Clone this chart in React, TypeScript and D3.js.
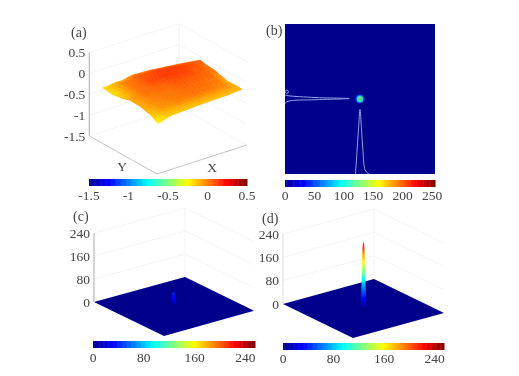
import React from "react";
import * as d3 from "d3";

// ---------- data ----------
const jetStops = [0, 0.125, 0.375, 0.625, 0.875, 1];
const jetColors = ["#00008f", "#0000ff", "#00ffff", "#ffff00", "#ff0000", "#800000"];

const aTicks = [0.5, 0, -0.5, -1, -1.5];
const aBarTicks = [-1.5, -1, -0.5, 0, 0.5];
const bBarTicks = [0, 50, 100, 150, 200, 250];
const cdTicks = [240, 160, 80, 0];
const cdBarTicks = [0, 80, 160, 240];

// surface (a): domain corners [u, v] (left, bottom, right, back)
const surfLeft = [0.2, 0.0];
const surfBottom = [1.05, -0.025];
const surfRight = [1.017, 0.935];
const surfBack = [0.423, 0.915];
// rows run left edge -> bottom edge, columns run towards the back
const surfZ = [
  [-0.16, -0.08, 0.02, 0.05, 0.06, 0.07, 0.07],
  [-0.18, 0.02, 0.09, 0.13, 0.13, 0.1, 0.03],
  [-0.14, 0.03, 0.11, 0.14, 0.12, 0.07, 0.01],
  [-0.07, 0.03, 0.05, 0.08, 0.07, 0.05, -0.04],
  [-0.07, 0.0, 0.02, 0.05, 0.04, 0.02, -0.09],
  [-0.12, -0.02, 0.01, 0.03, 0.02, -0.01, -0.09],
  [-0.22, -0.14, -0.13, -0.12, -0.12, -0.12, -0.1],
];

// spikes in (c) and (d): height along the column and half width
const spikeCHeights = [0, 10, 20, 30, 40];
const spikeCWidths = [2.6, 2.2, 1.8, 1.3, 0.6];
const spikeDHeights = [0, 15, 30, 50, 70, 90, 110, 130, 150, 170, 190, 210, 225];
const spikeDWidths = [2.8, 2.6, 2.4, 2.1, 1.9, 1.7, 1.5, 1.4, 1.2, 1.05, 0.9, 0.7, 0.3];

// (b) spot and line profiles over the image (fractions of image width / height)
const spot = [0.5, 0.5];
const hProfile: [number, number][] = [[0, 0.473], [0.02, 0.478], [0.2, 0.49], [0.43, 0.497], [0.2, 0.505], [0.02, 0.515], [0, 0.53]];
const vProfile: [number, number][] = [[0.47, 1], [0.48, 0.85], [0.49, 0.7], [0.5, 0.57], [0.51, 0.7], [0.52, 0.85], [0.535, 0.975], [0.56, 1]];

// ---------- helpers ----------
const jet = d3.scaleLinear<string>().domain(jetStops).range(jetColors).interpolate(d3.interpolateRgb).clamp(true);
const FONT = "'Liberation Serif', serif";
const TC = "#444";
const GRID = "#f4f4f4";

type Pt = [number, number];
const pts = (a: Pt[]) => a.map((p) => p.join(",")).join(" ");

function Colorbar({ x0, x1, y0, y1, domain, ticks, tickY }: any) {
  const sx = d3.scaleLinear().domain(domain).range([x0, x1]);
  const cells = d3.range(0, 128);
  const w = (x1 - x0) / 128;
  return (
    <g>
      {cells.map((i) => (
        <rect key={i} x={x0 + i * w} y={y0} width={w + 0.5} height={y1 - y0} fill={jet((i + 0.5) / 128)} />
      ))}
      {ticks.map((t: number) => (
        <text key={t} x={sx(t)} y={tickY} fontFamily={FONT} fontSize={13.5} fill={TC} textAnchor="middle">
          {t}
        </text>
      ))}
    </g>
  );
}

function Box({ left, back, right, top, zScale, ticks, axisColor }: any) {
  const up = (p: Pt, z: number): Pt => [p[0], p[1] + zScale(z) - zScale(ticks[ticks.length - 1])];
  return (
    <g fill="none">
      {ticks.map((t: number) => (
        <polyline key={t} points={pts([up(left, t), up(back, t), up(right, t)])} stroke={GRID} strokeWidth={1} />
      ))}
      <line x1={back[0]} x2={back[0]} y1={back[1]} y2={top} stroke={GRID} />
      <line x1={left[0]} x2={left[0]} y1={left[1]} y2={zScale(ticks[0])} stroke={axisColor} strokeWidth={1} />
      {ticks.map((t: number) => (
        <text key={"l" + t} x={left[0] - 4} y={zScale(t) + 4.5} fontFamily={FONT} fontSize={13.5} fill={TC} stroke="none" textAnchor="end">
          {t}
        </text>
      ))}
    </g>
  );
}

function SurfaceA({ left, eu, ev, zScale }: any) {
  const n = surfZ.length - 1;
  const m = surfZ[0].length - 1;
  const sub = 6;
  const zAt = (a: number, b: number) => {
    const fa = Math.min(a * n, n - 1e-6);
    const fb = Math.min(b * m, m - 1e-6);
    const i = Math.floor(fa);
    const j = Math.floor(fb);
    const ta = fa - i;
    const tb = fb - j;
    const sa = ta * ta * (3 - 2 * ta);
    const sb = tb * tb * (3 - 2 * tb);
    return (
      surfZ[i][j] * (1 - sa) * (1 - sb) +
      surfZ[i + 1][j] * sa * (1 - sb) +
      surfZ[i][j + 1] * (1 - sa) * sb +
      surfZ[i + 1][j + 1] * sa * sb
    );
  };
  const proj = (a: number, b: number): Pt => {
    const u =
      (1 - a) * (1 - b) * surfLeft[0] + a * (1 - b) * surfBottom[0] + (1 - a) * b * surfBack[0] + a * b * surfRight[0];
    const v =
      (1 - a) * (1 - b) * surfLeft[1] + a * (1 - b) * surfBottom[1] + (1 - a) * b * surfBack[1] + a * b * surfRight[1];
    return [left[0] + u * eu[0] + v * ev[0], zScale(zAt(a, b)) + u * eu[1] + v * ev[1]];
  };
  const N = n * sub;
  const M = m * sub;
  const quads: any[] = [];
  for (let i = 0; i < N; i++) {
    for (let j = M - 1; j >= 0; j--) {
      const a0 = i / N, a1 = (i + 1) / N, b0 = j / M, b1 = (j + 1) / M;
      const c = jet((zAt((a0 + a1) / 2, (b0 + b1) / 2) + 1.5) / 2);
      quads.push(
        <polygon key={i + "-" + j} points={pts([proj(a0, b0), proj(a1, b0), proj(a1, b1), proj(a0, b1)])} fill={c} stroke={c} strokeWidth={0.6} />
      );
    }
  }
  return <g>{quads}</g>;
}

function Spike({ cx, baseY, heights, widths, zPx, lift }: any) {
  return (
    <g>
      {heights.slice(0, -1).flatMap((h: number, i: number) => {
        const steps = 6;
        return d3.range(steps).map((k) => {
          const h0 = h + ((heights[i + 1] - h) * k) / steps;
          const h1 = h + ((heights[i + 1] - h) * (k + 1)) / steps;
          const w0 = widths[i] + ((widths[i + 1] - widths[i]) * k) / steps;
          const w1 = widths[i] + ((widths[i + 1] - widths[i]) * (k + 1)) / steps;
          const c = jet(((h0 + h1) / 2 + lift) / 255);
          return (
            <polygon
              key={i + "-" + k}
              points={pts([
                [cx - w0, baseY - zPx * h0],
                [cx + w0, baseY - zPx * h0],
                [cx + w1, baseY - zPx * h1],
                [cx - w1, baseY - zPx * h1],
              ])}
              fill={c}
              stroke={c}
              strokeWidth={0.3}
            />
          );
        });
      })}
    </g>
  );
}

export default function App() {
  // panel (a)
  const aLeft: Pt = [89.3, 136], aBottom: Pt = [157, 174], aRight: Pt = [246.7, 145], aBack: Pt = [179, 107];
  const aZ = d3.scaleLinear().domain([-1.5, 0.5]).range([136, 52.7]);
  const eu: Pt = [aBottom[0] - aLeft[0], aBottom[1] - aLeft[1]];
  const ev: Pt = [aBack[0] - aLeft[0], aBack[1] - aLeft[1]];

  // panel (b)
  const bx = d3.scaleLinear().domain([0, 1]).range([285, 435]);
  const by = d3.scaleLinear().domain([0, 1]).range([24, 174]);
  const prof = d3.line<[number, number]>().x((d) => bx(d[0])).y((d) => by(d[1])).curve(d3.curveCatmullRom);

  // panel (c)
  const cLeft: Pt = [94, 302], cBack: Pt = [185, 277], cRight: Pt = [254, 310.7], cBottom: Pt = [164, 336];
  const cZ = d3.scaleLinear().domain([0, 240]).range([302, 233]);
  // panel (d)
  const dLeft: Pt = [283, 304], dBack: Pt = [374, 279], dRight: Pt = [444, 313], dBottom: Pt = [353, 338];
  const dZ = d3.scaleLinear().domain([0, 240]).range([304, 234]);

  return (
    <svg width={519} height={376} style={{ position: "absolute", left: 0, top: 0, background: "#fff" }}>
      <defs>
        <filter id="soft" x="-5%" y="-5%" width="110%" height="110%">
          <feGaussianBlur stdDeviation="0.6" />
        </filter>
      </defs>
      <g filter="url(#soft)">
        {/* (a) */}
        <Box left={aLeft} back={aBack} right={aRight} top={24} zScale={aZ} ticks={aTicks} axisColor="#aaa" />
        <polyline points={pts([aLeft, aBottom, aRight])} fill="none" stroke="#c4c4c4" strokeWidth={1} />
        <SurfaceA left={aLeft} eu={eu} ev={ev} zScale={aZ} />
        <text x={71} y={37} fontFamily={FONT} fontSize={14} fill={TC}>(a)</text>
        <text x={122} y={171} fontFamily={FONT} fontSize={13.5} fill={TC} textAnchor="middle">Y</text>
        <text x={212} y={172} fontFamily={FONT} fontSize={13.5} fill={TC} textAnchor="middle">X</text>
        <Colorbar x0={89} x1={247} y0={179} y1={186} domain={[-1.5, 0.5]} ticks={aBarTicks} tickY={200} />

        {/* (b) */}
        <rect x={bx(0)} y={by(0)} width={bx(1) - bx(0)} height={by(1) - by(0)} fill="#00008c" />
        <circle cx={bx(spot[0])} cy={by(spot[1])} r={4.5} fill="#0a50e0" />
        <circle cx={bx(spot[0])} cy={by(spot[1])} r={3.2} fill="#38d8c0" />
        <circle cx={bx(spot[0])} cy={by(spot[1])} r={1.6} fill="#80d070" />
        <path d={prof(hProfile) as string} fill="none" stroke="#8fa4e0" strokeWidth={1} />
        <path d={prof(vProfile) as string} fill="none" stroke="#8fa4e0" strokeWidth={1} />
        <circle cx={bx(0.012)} cy={by(0.452)} r={1.6} fill="none" stroke="#8fa4e0" strokeWidth={0.9} />
        <text x={266} y={35} fontFamily={FONT} fontSize={14} fill={TC}>(b)</text>
        <Colorbar x0={285} x1={435} y0={180} y1={187} domain={[0, 255]} ticks={bBarTicks} tickY={200} />

        {/* (c) */}
        <Box left={cLeft} back={cBack} right={cRight} top={208} zScale={cZ} ticks={cdTicks} axisColor="#aaa" />
        <polygon points={pts([cLeft, cBack, cRight, cBottom])} fill="#00008c" />
        <Spike cx={173.5} baseY={304} heights={spikeCHeights} widths={spikeCWidths} zPx={0.29} lift={8} />
        <text x={73} y={221} fontFamily={FONT} fontSize={14} fill={TC}>(c)</text>
        <Colorbar x0={93} x1={255} y0={341} y1={348} domain={[0, 255]} ticks={cdBarTicks} tickY={362} />

        {/* (d) */}
        <Box left={dLeft} back={dBack} right={dRight} top={209} zScale={dZ} ticks={cdTicks} axisColor="#ddd" />
        <polygon points={pts([dLeft, dBack, dRight, dBottom])} fill="#00008c" />
        <Spike cx={363.5} baseY={308} heights={spikeDHeights} widths={spikeDWidths} zPx={0.29} lift={0} />
        <text x={262} y={223} fontFamily={FONT} fontSize={14} fill={TC}>(d)</text>
        <Colorbar x0={283} x1={444} y0={343} y1={350} domain={[0, 255]} ticks={cdBarTicks} tickY={363} />
      </g>
    </svg>
  );
}
